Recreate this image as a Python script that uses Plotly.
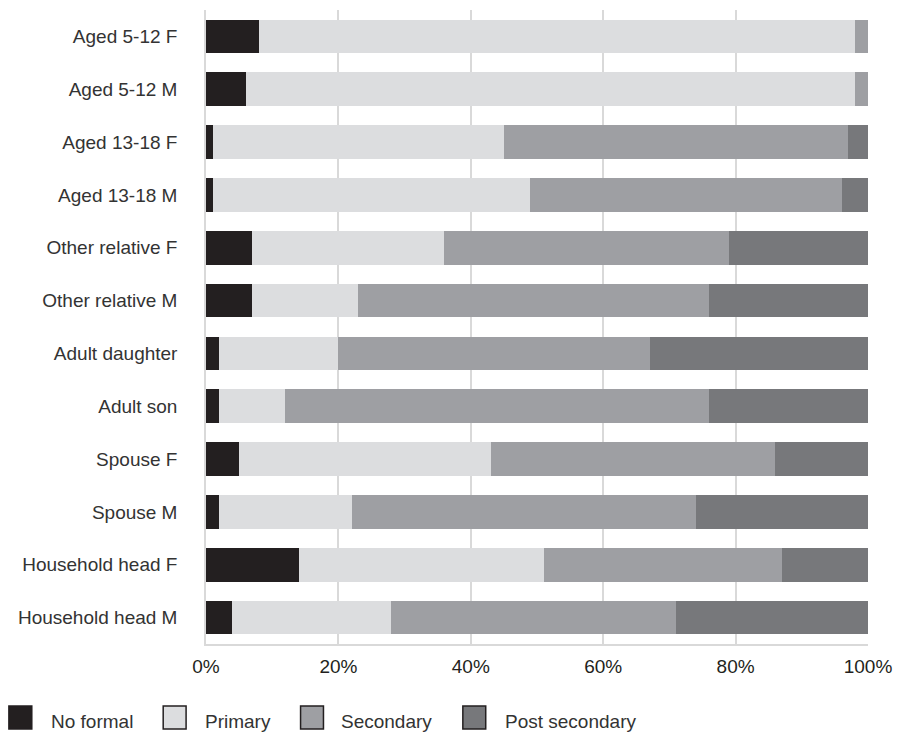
import plotly.graph_objects as go

categories = [
    "Aged 5-12 F", "Aged 5-12 M", "Aged 13-18 F", "Aged 13-18 M",
    "Other relative F", "Other relative M", "Adult daughter", "Adult son",
    "Spouse F", "Spouse M", "Household head F", "Household head M",
]
no_formal = [8, 6, 1, 1, 7, 7, 2, 2, 5, 2, 14, 4]
primary = [90, 92, 44, 48, 29, 16, 18, 10, 38, 20, 37, 24]
secondary = [2, 2, 52, 47, 43, 53, 47, 64, 43, 52, 36, 43]
post_secondary = [0, 0, 3, 4, 21, 24, 33, 24, 14, 26, 13, 29]
series_names = ["No formal", "Primary", "Secondary", "Post secondary"]
tick_values = [0, 20, 40, 60, 80, 100]
tick_labels = ["0%", "20%", "40%", "60%", "80%", "100%"]

colors = ["#231f20", "#dcdddf", "#9e9fa3", "#77787b"]
series = [no_formal, primary, secondary, post_secondary]

W, H = 902, 734
L, R, T, B = 206, 31, 10, 90
PW, PH = W - L - R, H - T - B

fig = go.Figure()
for name, vals, col in zip(series_names, series, colors):
    fig.add_trace(go.Bar(
        y=categories, x=vals, name=name, orientation="h",
        marker=dict(color=col, line=dict(width=0)),
        showlegend=False, hovertemplate="%{y}: %{x}%<extra>" + name + "</extra>",
    ))

font_family = "Liberation Sans, Arial, Helvetica, sans-serif"
text_color = "#2b2b2b"
grid_color = "#d9d9d9"

fig.update_layout(
    width=W, height=H,
    margin=dict(l=L, r=R, t=T, b=B),
    barmode="stack", bargap=0.36,
    plot_bgcolor="white", paper_bgcolor="white",
    font=dict(family=font_family, color=text_color, size=19),
    xaxis=dict(
        range=[0, 100], tickvals=tick_values, ticktext=tick_labels,
        showgrid=True, gridcolor=grid_color, gridwidth=1.5,
        showline=True, linecolor=grid_color, linewidth=1.5,
        zeroline=False, ticks="", ticklabelstandoff=4,
        tickfont=dict(size=19, color="#231f20"),
        fixedrange=True,
    ),
    yaxis=dict(
        autorange="reversed", showgrid=False,
        showline=True, linecolor=grid_color, linewidth=1.5,
        ticks="", ticklabelstandoff=23,
        tickfont=dict(size=19, color="#333333"),
        fixedrange=True,
    ),
)

# Manual legend beneath the chart (pixel layout converted to paper coordinates)
legend_sq_left = [8, 163, 301, 464]
legend_text_left = [48, 203, 340, 504]
sq_top, sq_bot, text_mid = 706, 729, 721

def px_x(p):
    return (p - L) / PW

def px_y(p):
    return (H - B - p) / PH

for name, col, sx, tx in zip(series_names, colors, legend_sq_left, legend_text_left):
    fig.add_shape(
        type="rect", xref="paper", yref="paper",
        x0=px_x(sx), x1=px_x(sx + 23), y0=px_y(sq_bot), y1=px_y(sq_top),
        fillcolor=col, line=dict(color="#231f20", width=1.5),
    )
    fig.add_annotation(
        xref="paper", yref="paper", x=px_x(tx), y=px_y(text_mid),
        xanchor="left", yanchor="middle", text=name, showarrow=False,
        font=dict(size=19, color="#333333"),
    )

fig.write_html(
    "out.html",
    config={"displayModeBar": False},
    post_script="document.body.style.margin='0';document.body.style.overflow='hidden';",
)
